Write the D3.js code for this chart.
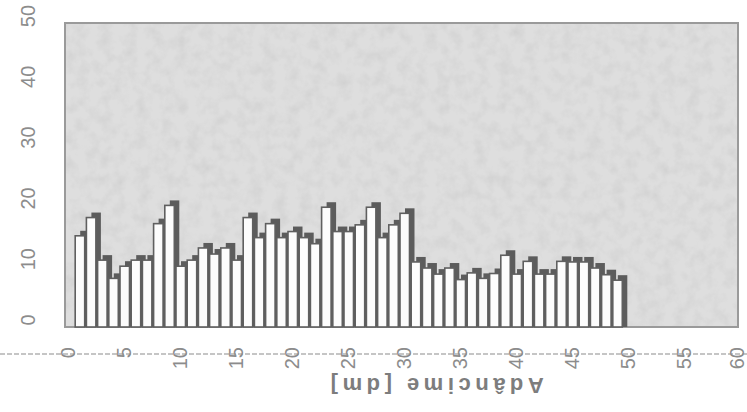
<!DOCTYPE html>
<html>
<head>
<meta charset="utf-8">
<script src="https://cdn.jsdelivr.net/npm/d3@7"></script>
<style>
	html, body { margin: 0; padding: 0; background: #fff; }
	svg { display: block; }
	text { font-family: "Liberation Sans", "DejaVu Sans", sans-serif; }
</style>
</head>
<body>
<div id="chart"></div>
<script>
// data
const positions = d3.range(1, 50);
const advance = [15, 18, 11, 8, 10, 11, 11, 17, 20, 10,
	11, 13, 12, 13, 11, 18, 14.7, 17, 14.7, 15.7,
	14.7, 13.7, 19.7, 15.7, 15.7, 16.8, 19.7, 14.7, 16.8, 18.7,
	10.7, 9.7, 8.7, 9.7, 7.8, 8.9, 8, 8.8, 11.8, 8.7,
	10.8, 8.7, 8.7, 10.8, 10.7, 10.7, 9.7, 8.6, 7.7];
const xTicks = d3.range(0, 61, 5);
const yTicks = [0, 10, 20, 30, 40, 50];
const axisTitle = 'Adâncime [dm]';

const width = 747, height = 412;

const svg = d3.select('#chart').append('svg')
	.attr('width', width)
	.attr('height', height);

const xScale = d3.scaleLinear().domain([0, 60]).range([68, 740]);
const yScale = d3.scaleLinear().domain([0, 50]).range([327, 23]);

// speckled scan texture for the plot area
const defs = svg.append('defs');
const filt = defs.append('filter').attr('id', 'speckle')
	.attr('x', 0).attr('y', 0).attr('width', 1).attr('height', 1);
filt.append('feTurbulence')
	.attr('type', 'fractalNoise')
	.attr('baseFrequency', '0.08')
	.attr('numOctaves', 3)
	.attr('seed', 4)
	.attr('result', 'noise');
filt.append('feColorMatrix')
	.attr('in', 'noise')
	.attr('type', 'matrix')
	.attr('values', '0 0 0 0 0.6  0 0 0 0 0.6  0 0 0 0 0.6  0 0 0 -2 1.2')
	.attr('result', 'spots');
filt.append('feComposite').attr('in', 'spots').attr('in2', 'SourceGraphic').attr('operator', 'in');

const plot = svg.append('g');

plot.append('rect')
	.attr('x', 65)
	.attr('y', yScale(50))
	.attr('width', 738 - 65)
	.attr('height', yScale(0) - yScale(50))
	.attr('fill', '#dedede')
	.attr('stroke', '#9a9a9a')
	.attr('stroke-width', 2);

plot.append('rect')
	.attr('x', 66)
	.attr('y', yScale(50) + 1)
	.attr('width', 738 - 67)
	.attr('height', yScale(0) - yScale(50) - 2)
	.attr('fill', '#dedede')
	.attr('opacity', 0.6)
	.attr('filter', 'url(#speckle)');

const bw = 9.5, depth = 5;
const bars = plot.selectAll('g.bar')
	.data(positions)
	.enter()
	.append('g')
	.classed('bar', true);

// depth shadow, offset up and right
bars.append('rect')
	.attr('x', (d) => xScale(d - 0.5) + 1.6 + depth)
	.attr('y', (d, i) => yScale(advance[i]) - depth)
	.attr('width', bw)
	.attr('height', (d, i) => yScale(0) - yScale(advance[i]) + depth)
	.attr('fill', '#5c5c5c');

// white front face
bars.append('rect')
	.attr('x', (d) => xScale(d - 0.5) + 1.6)
	.attr('y', (d, i) => yScale(advance[i]))
	.attr('width', bw)
	.attr('height', (d, i) => yScale(0) - yScale(advance[i]))
	.attr('fill', '#fcfcfc')
	.attr('stroke', '#5f5f5f')
	.attr('stroke-width', 1.6);

// y labels, rotated
svg.selectAll('text.ylab')
	.data(yTicks)
	.enter()
	.append('text')
	.classed('ylab', true)
	.attr('transform', d => `translate(28, ${yScale(d) - 7}) rotate(-90)`)
	.attr('text-anchor', 'middle')
	.attr('dominant-baseline', 'central')
	.attr('font-size', 20)
	.attr('fill', '#8c8c8c')
	.text(d => d);

// dashed baseline under the plot
svg.append('line')
	.attr('x1', 0).attr('x2', width)
	.attr('y1', 354).attr('y2', 354)
	.attr('stroke', '#8c8c8c')
	.attr('stroke-width', 1.2)
	.attr('stroke-dasharray', '5,2');

svg.selectAll('text.xlab')
	.data(xTicks)
	.enter()
	.append('text')
	.classed('xlab', true)
	.attr('transform', d => `translate(${Math.min(xScale(d), 737)}, 347) rotate(-90)`)
	.attr('text-anchor', 'end')
	.attr('dominant-baseline', 'central')
	.attr('font-size', 20)
	.attr('fill', '#8c8c8c')
	.text(d => d);

// axis title, printed upside down in the scan
svg.append('text')
	.attr('transform', 'translate(435, 385) rotate(180)')
	.attr('text-anchor', 'middle')
	.attr('dominant-baseline', 'central')
	.attr('font-family', '"DejaVu Sans", sans-serif')
	.attr('font-size', 22)
	.attr('font-weight', 'bold')
	.attr('letter-spacing', 4.5)
	.attr('fill', '#7d7d7d')
	.text(axisTitle);
</script>
</body>
</html>
